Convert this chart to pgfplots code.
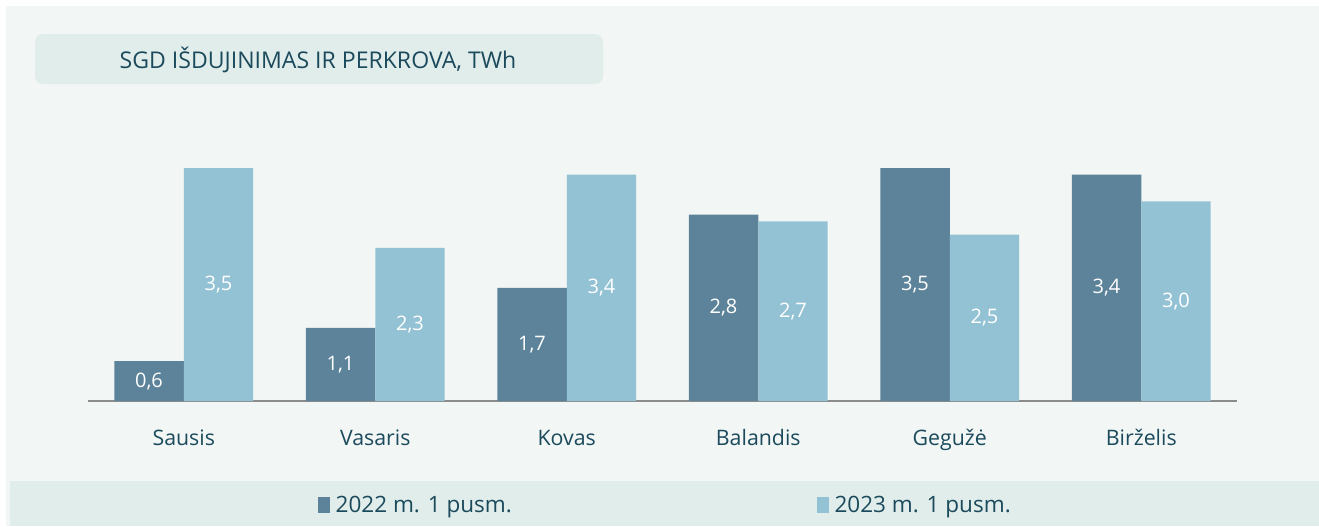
\documentclass[border=0pt]{standalone}
\usepackage{pgfplots}
\pgfplotsset{compat=1.18}
\usepackage{fontspec}
\setmainfont{Open Sans}
\definecolor{bg}{RGB}{242,246,245}
\definecolor{band}{RGB}{225,237,235}
\definecolor{txt}{RGB}{27,74,92}
\definecolor{darkbar}{RGB}{92,131,154}
\definecolor{lightbar}{RGB}{147,194,212}
\definecolor{axisgray}{RGB}{140,140,140}
\begin{document}
\begin{tikzpicture}[x=0.75pt,y=-0.75pt]
\fill[white] (0,0) rectangle (1319,526);
\fill[bg] (6,6) rectangle (1319,526);
\fill[band] (10,481) rectangle (1319,526);
\fill[band, rounded corners=6pt] (35,34) rectangle (603,84);
\node[text=txt, font=\fontsize{17.3}{20}\selectfont, inner sep=0pt] at (318,60) {SGD IŠDUJINIMAS IR PERKROVA, TWh};
\coordinate (A) at (88,401);
\begin{axis}[
  at={(A)}, anchor=south west,
  scale only axis,
  width=861.75pt, height=199.7pt,
  ymin=0, ymax=4,
  xmin=-0.5, xmax=5.5,
  clip=false,
  axis x line=bottom, axis y line=none,
  axis line style={draw=axisgray, line width=1.1pt, -},
  ybar=0pt, bar width=52.1pt,
  xtick=data,
  xticklabels={Sausis,Vasaris,Kovas,Balandis,Gegužė,Birželis},
  major tick length=0pt,
  xticklabel style={anchor=base, yshift=-33pt, text=txt, font=\fontsize{16}{19}\selectfont},
  ytick=\empty,
  /pgf/number format/.cd, use comma, fixed, fixed zerofill, precision=1, assume math mode=true,
  /pgfplots/.cd,
  nodes near coords,
  nodes near coords style={font=\fontsize{15}{18}\selectfont, text=white, anchor=center},
  visualization depends on=rawy \as \rawy,
  every node near coord/.append style={shift={(axis direction cs:0,-\rawy/2)}},
  legend columns=2,
  legend image code/.code={\fill[#1] (0pt,-6pt) rectangle (9pt,6pt);},
  legend style={at={(0.2002,-0.3905)}, anchor=west, draw=none, fill=none, inner sep=0pt,
    font=\fontsize{16.9}{20}\selectfont, text=txt,
    /tikz/every even column/.append style={column sep=227pt},
    /tikz/every odd column/.append style={column sep=2pt}},
]
\addplot[fill=darkbar, draw=none] coordinates {(0,0.6) (1,1.1) (2,1.7) (3,2.8) (4,3.5) (5,3.4)};
\addplot[fill=lightbar, draw=none] coordinates {(0,3.5) (1,2.3) (2,3.4) (3,2.7) (4,2.5) (5,3.0)};
\legend{2022 m. 1 pusm., 2023 m. 1 pusm.}
\end{axis}
\end{tikzpicture}
\end{document}
